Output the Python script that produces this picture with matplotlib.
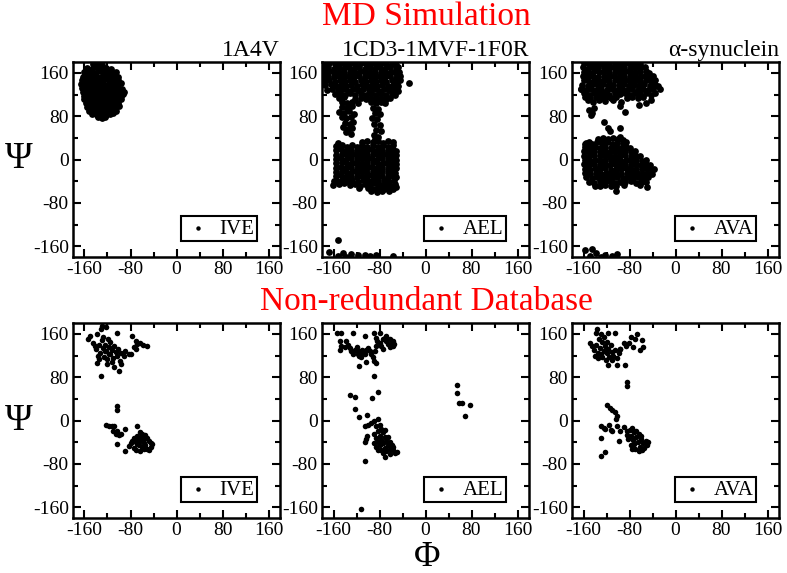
import numpy as np
import matplotlib
matplotlib.use("Agg")
import matplotlib.pyplot as plt
from matplotlib.ticker import MultipleLocator

plt.rcParams['font.family'] = ['Liberation Serif', 'DejaVu Serif']
plt.rcParams['axes.unicode_minus'] = False

# ---- data : (phi, psi) pairs ----
ive_md = [
    (-146, 176), (-138, 178), (-130, 174),
    (-155, 169), (-147, 167), (-139, 170), (-131, 166), (-122, 169), (-114, 167),
    (-160, 161), (-152, 162), (-144, 160), (-136, 163), (-128, 160), (-120, 162), (-112, 159), (-105, 161),
    (-163, 153), (-156, 155), (-148, 152), (-140, 155), (-132, 153), (-124, 155), (-116, 152), (-108, 154), (-101, 152),
    (-165, 146), (-158, 148), (-150, 145), (-142, 147), (-134, 146), (-126, 148), (-118, 145), (-110, 147), (-102, 146),
    (-166, 139), (-159, 141), (-151, 138), (-143, 140), (-135, 139), (-127, 141), (-119, 138), (-111, 140), (-103, 139), (-97, 141),
    (-164, 132), (-157, 134), (-149, 131), (-141, 133), (-133, 132), (-125, 134), (-117, 131), (-109, 133), (-101, 132), (-94, 130),
    (-162, 125), (-155, 127), (-147, 124), (-139, 126), (-131, 125), (-123, 127), (-115, 124), (-107, 126), (-99, 125), (-92, 124),
    (-161, 118), (-153, 120), (-145, 117), (-137, 119), (-129, 118), (-121, 120), (-113, 117), (-105, 119), (-97, 118), (-93, 121),
    (-160, 111), (-152, 113), (-144, 110), (-136, 112), (-128, 111), (-120, 113), (-112, 110), (-104, 112), (-97, 111),
    (-158, 104), (-150, 106), (-142, 103), (-134, 105), (-126, 104), (-118, 106), (-110, 103), (-102, 105),
    (-156, 97), (-148, 99), (-140, 96), (-132, 98), (-124, 97), (-116, 99), (-108, 96), (-100, 98),
    (-153, 90), (-145, 92), (-137, 89), (-129, 91), (-121, 90), (-113, 92), (-105, 89),
    (-147, 84), (-139, 82), (-131, 85), (-123, 83), (-115, 84), (-110, 86),
    (-137, 78), (-130, 76), (-125, 79),
]

ael_md = [
    # beta region
    (-176, 177), (-167, 179), (-158, 176), (-149, 178), (-140, 175), (-131, 178), (-122, 176), (-113, 179),
    (-104, 176), (-95, 178), (-86, 175), (-77, 178), (-68, 176), (-59, 177), (-51, 175),
    (-178, 169), (-169, 171), (-160, 168), (-151, 170), (-142, 167), (-133, 170), (-124, 168), (-115, 171),
    (-106, 168), (-97, 170), (-88, 167), (-79, 170), (-70, 168), (-61, 170), (-52, 167), (-48, 171),
    (-177, 161), (-168, 163), (-159, 160), (-150, 162), (-141, 159), (-132, 162), (-123, 160), (-114, 163),
    (-105, 160), (-96, 162), (-87, 159), (-78, 162), (-69, 160), (-60, 162), (-51, 159), (-46, 162),
    (-178, 153), (-169, 155), (-160, 152), (-151, 154), (-142, 151), (-133, 154), (-124, 152), (-115, 155),
    (-106, 152), (-97, 154), (-88, 151), (-79, 154), (-70, 152), (-61, 154), (-52, 151), (-45, 154),
    (-176, 145), (-167, 147), (-158, 144), (-149, 146), (-140, 143), (-131, 146), (-122, 144), (-113, 147),
    (-104, 144), (-95, 146), (-86, 143), (-77, 146), (-68, 144), (-59, 146), (-50, 143), (-44, 146),
    (-174, 137), (-165, 139), (-156, 136), (-147, 138), (-138, 135), (-129, 138), (-120, 136), (-111, 139),
    (-102, 136), (-93, 138), (-84, 135), (-75, 138), (-66, 136), (-57, 138), (-48, 135),
    (-171, 129), (-162, 131), (-153, 128), (-144, 130), (-135, 127), (-126, 130), (-117, 128), (-108, 131),
    (-99, 128), (-90, 130), (-81, 127), (-72, 130), (-63, 128), (-54, 130), (-48, 126),
    (-158, 121), (-149, 123), (-140, 120), (-131, 122), (-122, 119), (-113, 122), (-104, 120), (-95, 123),
    (-86, 120), (-77, 122), (-68, 119), (-59, 122), (-53, 120),
    (-150, 113), (-141, 115), (-122, 112), (-113, 114), (-104, 111), (-95, 114), (-86, 112), (-77, 114),
    (-68, 111), (-62, 114),
    (-146, 106), (-137, 104), (-127, 107), (-118, 105), (-95, 106), (-86, 104), (-77, 107), (-70, 104),
    # the two legs
    (-145, 97), (-137, 95), (-128, 98), (-150, 88), (-141, 86), (-133, 89), (-124, 84), (-146, 78),
    (-138, 76), (-130, 79), (-140, 68), (-132, 66), (-126, 70), (-143, 60), (-135, 57), (-128, 59),
    (-138, 50), (-130, 48), (-92, 96), (-82, 94), (-88, 86), (-79, 84), (-93, 76), (-84, 74),
    (-89, 66), (-80, 63), (-86, 55), (-77, 52), (-90, 45), (-82, 42), (-87, 37),
    (-28, 142),
    # alpha region
    (-110, 33), (-101, 35), (-92, 32), (-83, 34), (-74, 31), (-65, 34), (-57, 32),
    (-155, 25), (-146, 27), (-137, 24), (-128, 26), (-119, 23), (-110, 26), (-101, 24), (-92, 27),
    (-83, 24), (-74, 26), (-65, 23), (-56, 26),
    (-156, 17), (-147, 19), (-138, 16), (-129, 18), (-120, 15), (-111, 18), (-102, 16), (-93, 19),
    (-84, 16), (-75, 18), (-66, 15), (-57, 18), (-51, 16),
    (-155, 9), (-146, 11), (-137, 8), (-128, 10), (-119, 7), (-110, 10), (-101, 8), (-92, 11),
    (-83, 8), (-74, 10), (-65, 7), (-56, 10), (-51, 8),
    (-156, 1), (-147, 3), (-138, 0), (-129, 2), (-120, -1), (-111, 2), (-102, 0), (-93, 3),
    (-84, 0), (-75, 2), (-66, -1), (-57, 2), (-52, 0),
    (-155, -7), (-146, -5), (-137, -8), (-128, -6), (-119, -9), (-110, -6), (-101, -8), (-92, -5),
    (-83, -8), (-74, -6), (-65, -9), (-56, -6), (-52, -8),
    (-156, -15), (-147, -13), (-138, -16), (-129, -14), (-120, -17), (-111, -14), (-102, -16), (-93, -13),
    (-84, -16), (-75, -14), (-66, -17), (-57, -14), (-52, -16),
    (-155, -23), (-146, -21), (-137, -24), (-128, -22), (-119, -25), (-110, -22), (-101, -24), (-92, -21),
    (-84, -24), (-75, -22), (-66, -25), (-57, -22), (-53, -24),
    (-156, -31), (-147, -29), (-138, -32), (-129, -30), (-120, -33), (-111, -30), (-102, -32), (-93, -29),
    (-84, -32), (-75, -30), (-66, -33), (-57, -30), (-52, -32),
    (-154, -39), (-145, -37), (-136, -40), (-127, -38), (-118, -41), (-109, -38), (-100, -40), (-91, -37),
    (-82, -40), (-73, -38), (-64, -41), (-55, -38),
    (-150, -46), (-141, -44), (-132, -47), (-123, -45), (-114, -48), (-105, -45), (-96, -47), (-87, -44),
    (-78, -47), (-69, -45), (-60, -48), (-53, -46),
    (-115, -53), (-100, -52), (-91, -54), (-82, -51), (-73, -54), (-64, -52), (-56, -55),
    (-95, -59), (-85, -60), (-75, -58), (-64, -59),
    (-161, -47), (-152, 30), (-51, -50), (-160, -40),
    # psi near -180
    (-167, -170), (-152, -178), (-144, -173), (-138, -180), (-130, -175), (-118, -177),
    (-106, -176), (-97, -178), (-86, -177), (-57, -178), (-152, -149),
]

ava_md = [
    # beta region
    (-160, 178), (-151, 176), (-142, 179), (-133, 177), (-124, 179), (-115, 176), (-106, 178), (-97, 177),
    (-88, 179), (-79, 176), (-70, 178), (-61, 177),
    (-161, 170), (-152, 168), (-143, 171), (-134, 169), (-125, 171), (-116, 168), (-107, 170), (-98, 169),
    (-89, 171), (-80, 168), (-71, 170), (-62, 169), (-53, 171),
    (-160, 162), (-151, 160), (-142, 163), (-133, 161), (-124, 163), (-115, 160), (-106, 162), (-97, 161),
    (-88, 163), (-79, 160), (-70, 162), (-61, 161), (-52, 163), (-46, 160),
    (-161, 154), (-152, 152), (-143, 155), (-134, 153), (-125, 155), (-116, 152), (-107, 154), (-98, 153),
    (-89, 155), (-80, 152), (-71, 154), (-62, 153), (-53, 155), (-44, 152), (-40, 155),
    (-160, 146), (-151, 144), (-142, 147), (-133, 145), (-124, 147), (-115, 144), (-106, 146), (-97, 145),
    (-88, 147), (-79, 144), (-70, 146), (-61, 145), (-52, 147), (-43, 144), (-35, 146),
    (-162, 138), (-153, 136), (-144, 139), (-135, 137), (-126, 139), (-117, 136), (-108, 138), (-99, 137),
    (-90, 139), (-81, 136), (-72, 138), (-63, 137), (-54, 139), (-45, 136), (-36, 138), (-30, 136),
    (-164, 130), (-156, 128), (-147, 131), (-138, 129), (-129, 131), (-120, 128), (-111, 130), (-102, 129),
    (-93, 131), (-84, 128), (-75, 130), (-66, 129), (-57, 131), (-48, 128), (-39, 130), (-27, 130),
    (-160, 122), (-151, 120), (-142, 123), (-133, 121), (-124, 123), (-115, 120), (-106, 122), (-97, 121),
    (-88, 123), (-79, 120), (-70, 122), (-61, 121), (-52, 123), (-43, 120), (-36, 122),
    (-157, 115), (-148, 113), (-139, 116), (-130, 114), (-121, 116), (-112, 113), (-103, 115), (-84, 114),
    (-75, 116), (-66, 113), (-56, 115),
    (-152, 109), (-143, 107), (-133, 110), (-122, 108), (-108, 109), (-95, 107),
    (-145, 85), (-142, 96), (-147, 82), (-96, 98), (-87, 87), (-64, 101), (-52, 105), (-43, 110),
    (-165, 131), (-150, 91),
    (-125, 70), (-118, 59), (-114, 53), (-97, 59), (-96, 42), (-91, 36),
    # alpha region
    (-135, 38), (-126, 40), (-117, 37), (-108, 39), (-100, 37),
    (-155, 31), (-146, 29), (-137, 32), (-128, 30), (-119, 32), (-110, 29), (-101, 31), (-92, 30), (-86, 32),
    (-158, 23), (-149, 21), (-140, 24), (-131, 22), (-122, 24), (-113, 21), (-104, 23), (-95, 22),
    (-86, 24), (-79, 21),
    (-159, 15), (-150, 13), (-141, 16), (-132, 14), (-123, 16), (-114, 13), (-105, 15), (-96, 14),
    (-87, 16), (-78, 13), (-70, 15),
    (-159, 7), (-150, 5), (-141, 8), (-132, 6), (-123, 8), (-114, 5), (-105, 7), (-96, 6),
    (-87, 8), (-78, 5), (-69, 7), (-61, 6),
    (-158, -1), (-149, -3), (-140, 0), (-131, -2), (-122, 0), (-113, -3), (-104, -1), (-95, -2),
    (-86, 0), (-77, -3), (-68, -1), (-59, -2), (-52, 0),
    (-159, -9), (-150, -11), (-141, -8), (-132, -10), (-123, -8), (-114, -11), (-105, -9), (-96, -10),
    (-87, -8), (-78, -11), (-69, -9), (-60, -10), (-51, -8), (-45, -11),
    (-158, -17), (-149, -19), (-140, -16), (-131, -18), (-122, -16), (-113, -19), (-104, -17), (-95, -18),
    (-86, -16), (-77, -19), (-68, -17), (-59, -18), (-50, -16), (-41, -19), (-38, -17),
    (-157, -25), (-148, -27), (-139, -24), (-130, -26), (-121, -24), (-112, -27), (-103, -25), (-94, -26),
    (-85, -24), (-76, -27), (-67, -25), (-58, -26), (-49, -24), (-41, -27),
    (-155, -33), (-146, -35), (-137, -32), (-128, -34), (-119, -32), (-110, -35), (-101, -33), (-92, -34),
    (-83, -32), (-74, -35), (-65, -33), (-56, -34), (-47, -32),
    (-150, -41), (-141, -43), (-132, -40), (-123, -42), (-114, -40), (-105, -43), (-96, -41), (-87, -42),
    (-78, -40), (-69, -43), (-60, -41), (-51, -42),
    (-140, -48), (-131, -49), (-122, -47), (-113, -49), (-103, -48), (-90, -47), (-62, -47), (-50, -50),
    (-104, -59), (-157, 29), (-151, 33),
    # psi near -180
    (-157, -167), (-148, -178), (-139, -173), (-130, -180), (-122, -176), (-110, -178), (-101, -175),
    (-145, -166),
]

ive_db = [
    (-154, 150), (-150, 156), (-138, 159), (-132, 169), (-129, 175), (-123, 173), (-103, 162),
    (-145, 144), (-141, 138), (-138, 107), (-132, 82),
    (-140, 132), (-135, 140), (-133, 125), (-130, 148), (-128, 133), (-126, 118), (-124, 140), (-122, 128),
    (-120, 113), (-118, 135), (-116, 145), (-115, 122), (-113, 130), (-110, 116), (-108, 138), (-106, 126),
    (-104, 120), (-102, 132), (-99, 110), (-96, 124), (-137, 120), (-127, 155), (-119, 150), (-112, 108),
    (-135, 113), (-121, 104), (-109, 98), (-100, 92), (-97, 104), (-125, 128), (-117, 122),
    (-89, 129), (-92, 119), (-83, 122), (-77, 156), (-71, 147), (-68, 141), (-63, 144), (-58, 139),
    (-52, 138), (-74, 135), (-71, 132), (-79, 123),
    (-103, 27), (-103, 20), (-122, -9), (-118, -10), (-113, -10), (-108, -11), (-89, -15), (-110, -19),
    (-106, -24), (-100, -27), (-103, -19), (-97, -24), (-104, -44), (-89, -57), (-83, -47), (-68, -10),
    (-74, -32), (-68, -29), (-63, -22), (-60, -29), (-57, -35), (-51, -32), (-48, -38), (-45, -41),
    (-42, -44), (-54, -46), (-60, -48), (-65, -46), (-71, -40), (-77, -37), (-74, -50), (-63, -56),
    (-51, -52), (-45, -48), (-57, -41), (-63, -38), (-69, -44), (-66, -35), (-54, -27), (-80, -42),
    (-48, -54), (-57, -52), (-60, -24), (-71, -54),
]

ael_db = [
    (-154, 161), (-147, 161), (-126, 161), (-148, 147), (-147, 138), (-148, 130),
    (-138, 147), (-135, 140), (-132, 133), (-129, 128), (-123, 131), (-120, 136), (-117, 128), (-112, 128),
    (-109, 125), (-106, 122), (-103, 131), (-100, 134), (-97, 128), (-94, 122), (-91, 118), (-88, 128),
    (-86, 138), (-115, 119), (-126, 122), (-106, 156), (-110, 130), (-118, 123), (-112, 118), (-140, 135),
    (-115, 100), (-104, 108), (-89, 110), (-86, 107),
    (-89, 162), (-80, 162), (-86, 153), (-84, 147),
    (-80, 144), (-74, 150), (-71, 153), (-68, 147), (-65, 141), (-62, 150), (-59, 144), (-57, 138),
    (-54, 141), (-77, 138), (-74, 132), (-68, 156), (-62, 135), (-56, 146),
    (-89, 82), (-83, 52), (-132, 48), (-123, 44), (-93, 41), (-123, 21), (-115, 7), (-102, 11),
    (-106, -10), (-100, -9), (-94, -5), (-89, -1), (-83, 2), (-102, -29), (-105, -39), (-104, -34),
    (-106, -74),
    (-86, -10), (-80, -8), (-77, -15), (-83, -20), (-89, -25), (-86, -32), (-80, -28), (-74, -22),
    (-71, -30), (-77, -36), (-83, -40), (-80, -46), (-74, -42), (-68, -38), (-65, -45), (-71, -50),
    (-77, -54), (-68, -56), (-62, -52), (-59, -46), (-56, -55), (-53, -60), (-50, -58), (-62, -62),
    (-74, -60), (-86, -48), (-89, -42), (-65, -30), (-70, -17), (-62, -40), (-56, -48), (-83, -55),
    (-70, -67), (-113, -163),
    (55, 65), (54, 51), (59, 33), (63, 32), (68, 8), (77, 29),
]

ava_db = [
    (-136, 169), (-139, 161), (-130, 159), (-148, 144), (-145, 138),
    (-142, 130), (-138, 140), (-135, 125), (-133, 150), (-131, 133), (-128, 118), (-127, 145), (-125, 128),
    (-123, 138), (-121, 112), (-119, 125), (-117, 132), (-115, 118), (-113, 140), (-111, 126), (-108, 120),
    (-105, 130), (-102, 116), (-99, 124), (-96, 132), (-140, 120), (-124, 155), (-130, 122), (-120, 145),
    (-110, 112), (-134, 115),
    (-118, 103), (-101, 103), (-87, 103), (-106, 161), (-118, 161),
    (-67, 160), (-58, 148), (-56, 135), (-74, 135), (-81, 144), (-90, 143), (-96, 132), (-78, 154),
    (-70, 150), (-61, 131), (-86, 138),
    (-84, 72), (-84, 63),
    (-119, 28), (-114, 24), (-110, 19), (-106, 15), (-101, 8), (-104, 3),
    (-130, -10), (-125, -13), (-122, -16), (-116, -8), (-113, -17), (-110, -19), (-101, -10), (-96, -19),
    (-90, -12), (-85, -19), (-84, -27), (-99, -38), (-130, -32), (-129, -66), (-123, -59),
    (-80, -18), (-76, -14), (-72, -22), (-78, -28), (-82, -34), (-74, -36), (-68, -30), (-64, -24),
    (-60, -34), (-66, -40), (-72, -44), (-78, -46), (-70, -52), (-62, -48), (-56, -42), (-52, -38),
    (-48, -40), (-58, -54), (-64, -56), (-54, -50), (-50, -46), (-60, -28), (-68, -20), (-76, -52),
]

col_titles = ["1A4V", "1CD3-1MVF-1F0R", "\u03b1-synuclein"]
labels = ["IVE", "AEL", "AVA"]
panels = [[ive_md, ael_md, ava_md], [ive_db, ael_db, ava_db]]

# ---- figure ----
W, H = 787, 573
fig = plt.figure(figsize=(W / 100, H / 100), dpi=100)

lefts = [73, 322, 572]
bottoms = [257, 518]
aw, ah = 207, 195

for r in range(2):
    for c in range(3):
        ax = fig.add_axes([lefts[c] / W, (H - bottoms[r]) / H, aw / W, ah / H])
        pts = np.array(panels[r][c])
        ax.scatter(pts[:, 0], pts[:, 1], s=24 if r == 0 else 16, c='black',
                   linewidths=0, label=labels[c], zorder=3)
        ax.set_xlim(-180, 180)
        ax.set_ylim(-180, 180)
        for a in (ax.xaxis, ax.yaxis):
            a.set_major_locator(MultipleLocator(80))
            a.set_minor_locator(MultipleLocator(40))
        ax.set_xticks([-160, -80, 0, 80, 160])
        ax.set_yticks([-160, -80, 0, 80, 160])
        ax.tick_params(which='both', direction='in', top=True, right=True,
                       labelsize=14, width=1.5)
        ax.tick_params(which='major', length=6, pad=3)
        ax.tick_params(which='minor', length=3.5)
        for sp in ax.spines.values():
            sp.set_linewidth(1.8)
        if r == 0:
            ax.set_title(col_titles[c], loc='right', fontsize=17, pad=4.5)
        leg = ax.legend(loc='lower right', bbox_to_anchor=(0.889, 0.082),
                        borderaxespad=0, fontsize=15, frameon=True, fancybox=False,
                        edgecolor='black', framealpha=1, borderpad=0.12,
                        handlelength=1.4, handletextpad=0.35,
                        markerscale=0.65 if r == 0 else 0.8)
        leg.get_frame().set_linewidth(1.5)

fig.text(426 / W, 1 - 25 / H, "MD Simulation", color='red', fontsize=24,
         ha='center', va='baseline')
fig.text(426 / W, 1 - 310 / H, "Non-redundant Database", color='red', fontsize=24,
         ha='center', va='baseline')
fig.text(18.5 / W, 1 - 159 / H, "\u03a8", fontsize=27, ha='center', va='center')
fig.text(18.5 / W, 1 - 421 / H, "\u03a8", fontsize=27, ha='center', va='center')
fig.text(427 / W, 1 - 558 / H, "\u03a6", fontsize=26, ha='center', va='center')

fig.savefig("out.png", dpi=100)
